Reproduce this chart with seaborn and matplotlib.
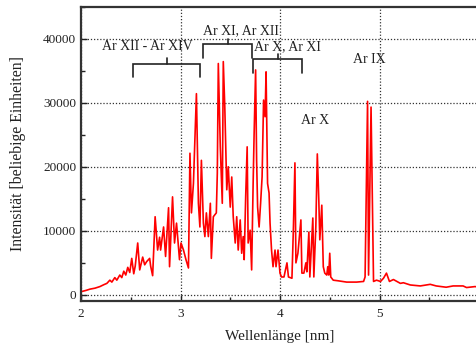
import matplotlib
matplotlib.use("Agg")
import matplotlib.pyplot as plt
import seaborn as sns
import pandas as pd
from matplotlib.ticker import MultipleLocator

wavelength = [2.00, 2.05, 2.09, 2.14, 2.19, 2.23, 2.26, 2.29, 2.31, 2.34, 2.36, 2.39, 2.41, 2.43, 2.45,
              2.47, 2.49, 2.51, 2.53, 2.545, 2.57, 2.59, 2.62, 2.64, 2.66, 2.69, 2.70, 2.72, 2.745, 2.77,
              2.79, 2.80, 2.83, 2.85, 2.88, 2.89, 2.92, 2.94, 2.96, 2.99, 3.005, 3.03, 3.055, 3.08, 3.095,
              3.11, 3.13, 3.145, 3.16, 3.18, 3.195, 3.21, 3.23, 3.245, 3.26, 3.28, 3.30, 3.31, 3.33, 3.36,
              3.37, 3.38, 3.40, 3.42, 3.43, 3.445, 3.465, 3.48, 3.50, 3.515, 3.53, 3.55, 3.565, 3.58, 3.60,
              3.615, 3.63, 3.64, 3.655, 3.67, 3.68, 3.70, 3.715, 3.73, 3.74, 3.755, 3.765, 3.775, 3.79, 3.805,
              3.82, 3.835, 3.85, 3.86, 3.875, 3.89, 3.90, 3.915, 3.93, 3.95, 3.96, 3.98, 4.00, 4.015, 4.04,
              4.07, 4.085, 4.12, 4.135, 4.15, 4.16, 4.18, 4.21, 4.22, 4.24, 4.26, 4.27, 4.29, 4.30, 4.33,
              4.34, 4.36, 4.375, 4.39, 4.40, 4.42, 4.435, 4.45, 4.47, 4.48, 4.49, 4.50, 4.51, 4.535, 4.585,
              4.67, 4.77, 4.84, 4.855, 4.88, 4.89, 4.915, 4.94, 4.97, 5.01, 5.04, 5.07, 5.10, 5.14, 5.21,
              5.24, 5.31, 5.41, 5.51, 5.57, 5.67, 5.74, 5.84, 5.875, 5.96, 6.00]
intensity = [500, 700, 900, 1050, 1300, 1600, 1800, 2300, 2000, 2700, 2300, 3100, 2700, 3700, 3100,
             4300, 3500, 5700, 3300, 4500, 8100, 3900, 5900, 4700, 5200, 5700, 4500, 3000, 12200, 7000,
             9000, 7000, 10600, 6000, 13600, 4400, 15300, 8100, 11200, 5500, 8100, 7000, 5500, 4200, 22100,
             12800, 17400, 24600, 31400, 14300, 10600, 21000, 11200, 9100, 12800, 9100, 14300, 5700, 12200, 12800,
             19000, 36100, 23100, 14300, 36400, 29400, 16400, 20000, 13700, 18400, 12200, 8100, 12200, 7000, 11700,
             6500, 9100, 5500, 15300, 23100, 8100, 10100, 3900, 17400, 25200, 35100, 21000, 13700, 10600, 14300,
             18400, 30400, 27800, 34800, 17400, 15900, 11200, 7000, 4400, 7000, 4400, 7000, 3400, 2800, 2800,
             5000, 2800, 2600, 10600, 20600, 5000, 6500, 11700, 3400, 3400, 5000, 3600, 9800, 2800, 12000,
             2800, 10600, 22000, 14800, 8600, 14000, 4400, 3400, 3100, 4400, 3100, 6500, 2800, 2300, 2200,
             2000, 2000, 2100, 2800, 30200, 3100, 29300, 2100, 2300, 2100, 2600, 3400, 2100, 2400, 1800,
             1900, 1550, 1400, 1650, 1400, 1200, 1400, 1400, 1150, 1300, 1200]

x_ticks = [2, 3, 4, 5, 6]
y_ticks = [0, 10000, 20000, 30000, 40000]

# annotations: label, text x, text y, bracket left, bracket right, bar y, leg end y, centre tick top
ann_labels = ["Ar XII - Ar XIV", "Ar XI, Ar XII", "Ar X, Ar XI"]
ann_text_x = [2.67, 3.61, 4.075]
ann_text_y = [38700, 41200, 38800]
br_left = [2.525, 3.23, 3.73]
br_right = [3.20, 3.72, 4.22]
br_bar = [36000, 39150, 36800]
br_leg = [34000, 37000, 34700]
br_tick = [36900, 39900, 37600]
free_labels = ["Ar IX", "Ar X"]
free_x = [4.895, 4.35]
free_y = [36700, 27200]

sns.set_style("ticks")
plt.rcParams['font.family'] = ['Liberation Serif', 'DejaVu Serif']

fig = plt.figure(figsize=(4.76, 3.49), dpi=100)
ax = fig.add_axes([81/476, 48/349, (479-81)/476, (301-6.5)/349])

df = pd.DataFrame({"Wellenlänge": wavelength, "Intensität": intensity})
sns.lineplot(data=df, x="Wellenlänge", y="Intensität", ax=ax, color="#ff0000", linewidth=1.2)

ax.set_xlim(2, 6)
ax.set_ylim(-950, 45000)
ax.set_xticks(x_ticks)
ax.set_yticks(y_ticks)
ax.xaxis.set_minor_locator(MultipleLocator(0.5))
ax.yaxis.set_minor_locator(MultipleLocator(5000))
ax.tick_params(which="both", direction="in", colors="#222222", labelsize=9.5, labelcolor="#222222")
ax.tick_params(which="major", length=4, width=1)
ax.tick_params(which="minor", length=3, width=1)
ax.tick_params(axis="x", pad=5)
ax.grid(True, which="major", linestyle=(0, (1, 1.5)), color="#333333", linewidth=0.9)
for s in ax.spines.values():
    s.set_linewidth(1.6)
    s.set_color("#333333")
    s.set_visible(True)

ax.set_xlabel("Wellenlänge [nm]", fontsize=11, color="#222222", labelpad=7)
ax.set_ylabel("Intensität [beliebige Einheiten]", fontsize=11.3, color="#222222", labelpad=12)

for lab, tx, ty, bl, brr, bb, lg, tk in zip(ann_labels, ann_text_x, ann_text_y, br_left, br_right,
                                              br_bar, br_leg, br_tick):
    ax.plot([bl, bl, brr, brr], [lg, bb, bb, lg], color="#222222", linewidth=1.2, solid_joinstyle="miter")
    mid = (bl + brr) / 2
    ax.plot([mid, mid], [bb, tk], color="#222222", linewidth=1.2)
    ax.text(tx, ty, lab, ha="center", va="center", fontsize=10, color="#222222")
for lab, tx, ty in zip(free_labels, free_x, free_y):
    ax.text(tx, ty, lab, ha="center", va="center", fontsize=10, color="#222222")

fig.savefig("out.png", dpi=100)
